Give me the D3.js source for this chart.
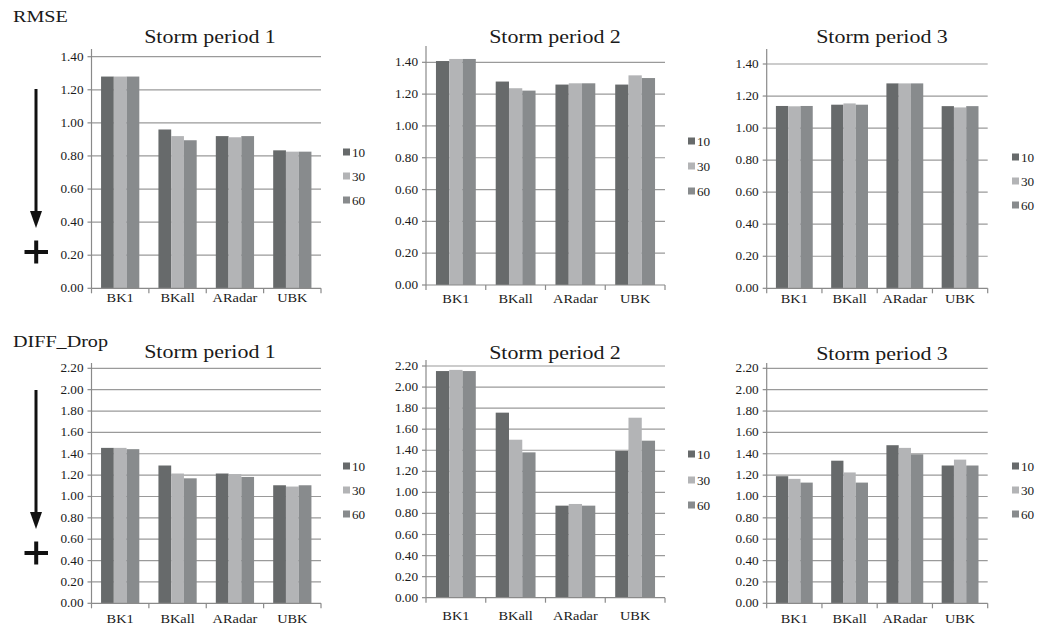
<!DOCTYPE html>
<html>
<head>
<meta charset="utf-8">
<script src="https://cdn.jsdelivr.net/npm/d3@7"></script>
<style>
  body { margin: 0; background: #fff; }
</style>
</head>
<body>
<svg id="chart" width="1037" height="629"></svg>
<script>
const categories = ['BK1', 'BKall', 'ARadar', 'UBK'];
const seriesNames = ['10', '30', '60'];
const seriesColors = ['#676a6b', '#b3b4b6', '#888b8d'];

const rmseTicks = [0, 0.2, 0.4, 0.6, 0.8, 1.0, 1.2, 1.4];
const diffTicks = [0, 0.2, 0.4, 0.6, 0.8, 1.0, 1.2, 1.4, 1.6, 1.8, 2.0, 2.2];

// one row per category, values for 10 / 30 / 60
const rmsePeriod1 = [[1.28, 1.28, 1.28], [0.96, 0.92, 0.895], [0.92, 0.913, 0.92], [0.834, 0.826, 0.826]];
const rmsePeriod2 = [[1.408, 1.421, 1.421], [1.279, 1.237, 1.222], [1.26, 1.268, 1.268], [1.26, 1.318, 1.301]];
const rmsePeriod3 = [[1.138, 1.136, 1.138], [1.146, 1.154, 1.146], [1.279, 1.279, 1.279], [1.137, 1.129, 1.137]];
const diffPeriod1 = [[1.455, 1.455, 1.443], [1.29, 1.215, 1.17], [1.215, 1.21, 1.183], [1.105, 1.093, 1.105]];
const diffPeriod2 = [[2.152, 2.163, 2.152], [1.757, 1.5, 1.38], [0.874, 0.89, 0.874], [1.393, 1.709, 1.491]];
const diffPeriod3 = [[1.19, 1.165, 1.13], [1.335, 1.225, 1.13], [1.48, 1.455, 1.395], [1.29, 1.345, 1.29]];

const FONT = 'Liberation Serif';

const svg = d3.select('#chart');

// text in the reference is a bit wider than the font, so stretch it sideways
function txt(g, x, y, str, size, anchor, sx = 1.15) {
  return g.append('text')
    .attr('transform', `translate(${x},${y}) scale(${sx},1)`)
    .attr('text-anchor', anchor)
    .attr('font-family', FONT)
    .attr('font-size', size)
    .attr('fill', '#1a1a1a')
    .text(str);
}

const panels = [
  { title: 'Storm period 1', data: rmsePeriod1, ticks: rmseTicks, x0: 91.5, x1: 321, y0: 288.3, y1: 56.7, axTop: 49, tx: 210, ty: 43, catY: 301.5, lx: 343, ly: [152, 176, 200] },
  { title: 'Storm period 2', data: rmsePeriod2, ticks: rmseTicks, x0: 426, x1: 665, y0: 285, y1: 62.3, axTop: 46, tx: 555, ty: 43, catY: 302.5, lx: 688, ly: [141, 166, 191] },
  { title: 'Storm period 3', data: rmsePeriod3, ticks: rmseTicks, x0: 766.7, x1: 987.7, y0: 288.3, y1: 64, axTop: 49, tx: 882, ty: 43, catY: 302.5, lx: 1012, ly: [157, 181, 205] },
  { title: 'Storm period 1', data: diffPeriod1, ticks: diffTicks, x0: 91.5, x1: 321, y0: 603.3, y1: 368.3, axTop: 363, tx: 210, ty: 358, catY: 622.5, lx: 343, ly: [466, 490, 514] },
  { title: 'Storm period 2', data: diffPeriod2, ticks: diffTicks, x0: 426, x1: 665, y0: 597.7, y1: 366, axTop: 360, tx: 555, ty: 359, catY: 619.5, lx: 688, ly: [454, 480, 505] },
  { title: 'Storm period 3', data: diffPeriod3, ticks: diffTicks, x0: 766.7, x1: 987.7, y0: 603.3, y1: 368.3, axTop: 363, tx: 882, ty: 360, catY: 622.5, lx: 1012, ly: [466, 490, 514] }
];

panels.forEach(p => {
  const g = svg.append('g');
  const maxV = p.ticks[p.ticks.length - 1];

  const x = d3.scaleBand().domain(categories).range([p.x0, p.x1]);
  const bw = x.bandwidth();
  const xi = d3.scaleBand().domain(seriesNames).range([bw / 6, bw * 5 / 6]);
  const y = d3.scaleLinear().domain([0, maxV]).range([p.y0, p.y1]);

  // gridlines
  g.selectAll('.grid')
    .data(p.ticks.filter(t => t > 0))
    .enter()
    .append('line')
    .attr('x1', p.x0).attr('x2', p.x1)
    .attr('y1', d => y(d)).attr('y2', d => y(d))
    .attr('stroke', '#9a9a9a').attr('stroke-width', 1.2);

  // bars
  categories.forEach((c, ci) => {
    g.selectAll(null)
      .data(p.data[ci])
      .enter()
      .append('rect')
      .attr('x', (d, si) => x(c) + xi(seriesNames[si]))
      .attr('y', d => y(d))
      .attr('width', xi.bandwidth())
      .attr('height', d => y(0) - y(d))
      .attr('fill', (d, si) => seriesColors[si]);
  });

  // y axis line, ticks and labels
  g.append('line')
    .attr('x1', p.x0).attr('x2', p.x0).attr('y1', p.axTop).attr('y2', p.y0)
    .attr('stroke', '#8a8a8a').attr('stroke-width', 1.2);
  p.ticks.forEach(t => {
    g.append('line')
      .attr('x1', p.x0 - 4).attr('x2', p.x0).attr('y1', y(t)).attr('y2', y(t))
      .attr('stroke', '#8a8a8a').attr('stroke-width', 1.2);
    txt(g, p.x0 - 8, y(t) + 4, d3.format('.2f')(t), 11.5, 'end');
  });

  // x axis line, ticks and labels
  g.append('line')
    .attr('x1', p.x0).attr('x2', p.x1).attr('y1', p.y0).attr('y2', p.y0)
    .attr('stroke', '#8a8a8a').attr('stroke-width', 1.2);
  categories.concat([null]).forEach(c => {
    const xb = c ? x(c) : p.x1;
    g.append('line')
      .attr('x1', xb).attr('x2', xb).attr('y1', p.y0).attr('y2', p.y0 + 5)
      .attr('stroke', '#8a8a8a').attr('stroke-width', 1.2);
  });
  categories.forEach(c => txt(g, x(c) + bw / 2, p.catY, c, 12.5, 'middle'));

  // title
  txt(g, p.tx, p.ty, p.title, 18, 'middle', 1.22);

  // legend
  seriesNames.forEach((s, si) => {
    g.append('rect')
      .attr('x', p.lx).attr('y', p.ly[si] - 3.5)
      .attr('width', 7).attr('height', 7)
      .attr('fill', seriesColors[si]);
    txt(g, p.lx + 9, p.ly[si] + 4.5, s, 12, 'start', 1.1);
  });
});

// row labels
txt(svg, 13, 22, 'RMSE', 17.5, 'start');
txt(svg, 13, 347, 'DIFF_Drop', 17.5, 'start');

// "lower is better" arrows with plus sign
[0, 301].forEach(dy => {
  const a = svg.append('g').attr('transform', `translate(0,${dy})`);
  a.append('line').attr('x1', 36).attr('x2', 36).attr('y1', 89).attr('y2', 214)
    .attr('stroke', '#111').attr('stroke-width', 3);
  a.append('path').attr('d', 'M30,211 L42,211 L36,228 Z').attr('fill', '#111');
  a.append('line').attr('x1', 24.5).attr('x2', 48).attr('y1', 252).attr('y2', 252)
    .attr('stroke', '#111').attr('stroke-width', 4);
  a.append('line').attr('x1', 36.2).attr('x2', 36.2).attr('y1', 240.5).attr('y2', 263.5)
    .attr('stroke', '#111').attr('stroke-width', 4);
});
</script>
</body>
</html>
